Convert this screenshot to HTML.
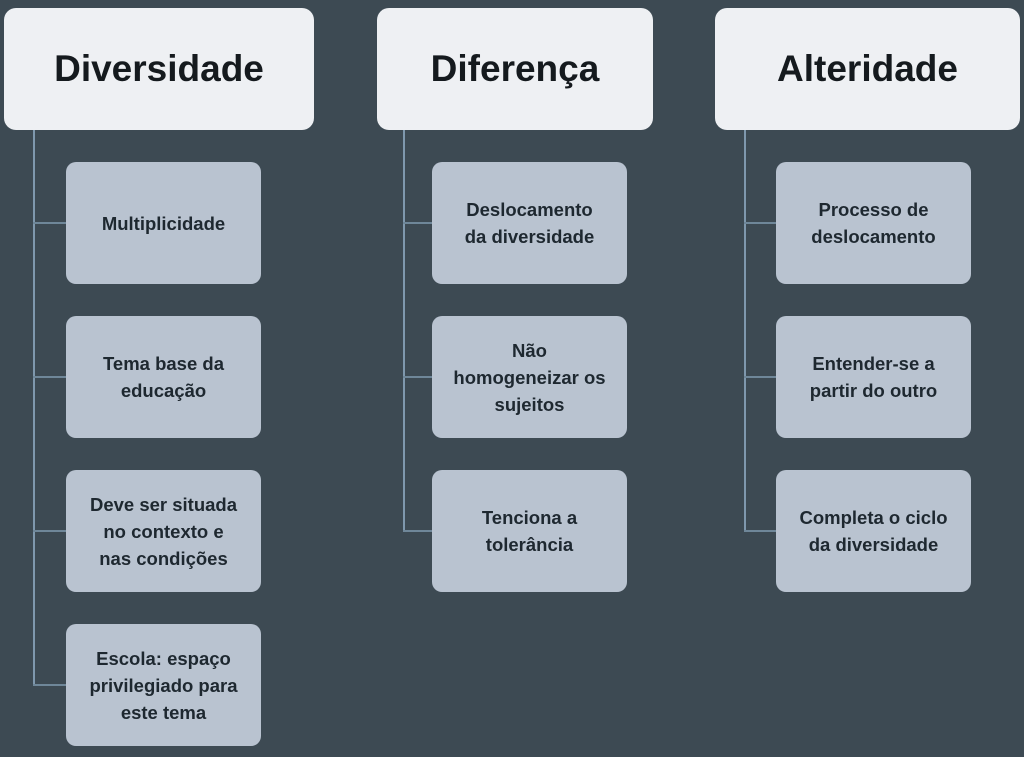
<!DOCTYPE html>
<html><head><meta charset="utf-8"><style>
body{margin:0;width:1024px;height:757px;background:#3d4a53;position:relative;overflow:hidden;font-family:"Liberation Sans",sans-serif;font-weight:bold}
.h{position:absolute;top:8px;height:122px;background:#eef0f3;border-radius:12px;display:flex;align-items:center;justify-content:center;font-size:37px;color:#151a1e}
.c{position:absolute;width:195px;height:122px;background:#b9c3d0;border-radius:10px;display:flex;align-items:center;justify-content:center;text-align:center;font-size:18.5px;line-height:27px;color:#1e2830}
.v{position:absolute;width:2px;background:#7f98ad}
.l{position:absolute;height:2px;background:#6f8799}
</style></head><body>
<div class="h" style="left:4px;width:310px">Diversidade</div>
<div class="h" style="left:377px;width:276px">Diferença</div>
<div class="h" style="left:715px;width:305px">Alteridade</div>

<div class="v" style="left:33px;top:130px;height:556px"></div>
<div class="l" style="left:33px;top:222px;width:33px"></div>
<div class="l" style="left:33px;top:376px;width:33px"></div>
<div class="l" style="left:33px;top:530px;width:33px"></div>
<div class="l" style="left:33px;top:684px;width:33px"></div>

<div class="v" style="left:403px;top:130px;height:402px"></div>
<div class="l" style="left:403px;top:222px;width:29px"></div>
<div class="l" style="left:403px;top:376px;width:29px"></div>
<div class="l" style="left:403px;top:530px;width:29px"></div>

<div class="v" style="left:744px;top:130px;height:402px"></div>
<div class="l" style="left:744px;top:222px;width:32px"></div>
<div class="l" style="left:744px;top:376px;width:32px"></div>
<div class="l" style="left:744px;top:530px;width:32px"></div>

<div class="c" style="left:66px;top:162px">Multiplicidade</div>
<div class="c" style="left:66px;top:316px">Tema base da<br>educação</div>
<div class="c" style="left:66px;top:470px">Deve ser situada<br>no contexto e<br>nas condições</div>
<div class="c" style="left:66px;top:624px">Escola: espaço<br>privilegiado para<br>este tema</div>

<div class="c" style="left:432px;top:162px">Deslocamento<br>da diversidade</div>
<div class="c" style="left:432px;top:316px">Não<br>homogeneizar os<br>sujeitos</div>
<div class="c" style="left:432px;top:470px">Tenciona a<br>tolerância</div>

<div class="c" style="left:776px;top:162px">Processo de<br>deslocamento</div>
<div class="c" style="left:776px;top:316px">Entender-se a<br>partir do outro</div>
<div class="c" style="left:776px;top:470px">Completa o ciclo<br>da diversidade</div>
</body></html>
